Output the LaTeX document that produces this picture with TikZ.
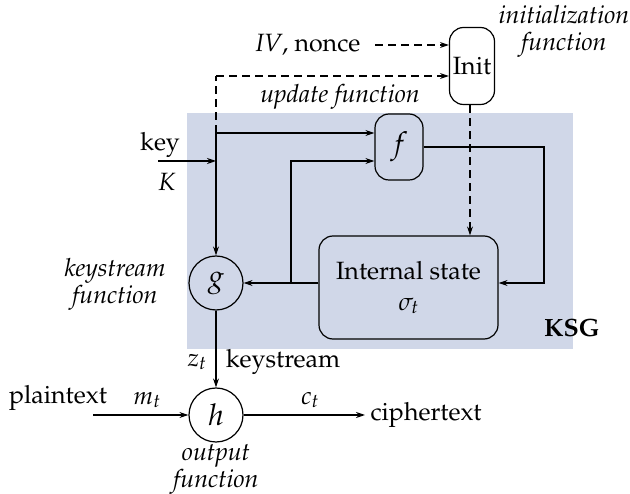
\documentclass[tikz,border=0pt]{standalone}
\usepackage[T1]{fontenc}
\usepackage{mathpazo}
\usetikzlibrary{arrows.meta,calc}
\definecolor{ksgblue}{RGB}{208,215,232}
\tikzset{
  arr/.style={-{Stealth[length=9pt,width=6pt]}},
  ln/.style={line width=1.2pt},
  circ/.style={draw,ln,circle,minimum size=54pt,inner sep=0pt,font=\fontsize{30}{32}\selectfont},
  rbox/.style={draw,ln,rounded corners=14pt,inner sep=0pt,align=center},
  lbl/.style={inner sep=1pt},
  itl/.style={lbl,align=center,font=\fontsize{25}{27}\selectfont\itshape},
  dsh/.style={dash pattern=on 8pt off 5pt},
}
\begin{document}
\begin{tikzpicture}[x=1pt,y=-1pt,font=\fontsize{25}{28}\selectfont,line width=1.2pt]
\useasboundingbox (0,0) rectangle (630,494);
\fill[ksgblue] (187,113) rectangle (573,349);
% nodes
\node[rbox,minimum width=45pt,minimum height=77pt] (init) at (472,66) {Init};
\node[rbox,minimum width=48pt,minimum height=66pt,font=\fontsize{30}{32}\selectfont] (f) at (399,147) {$f$};
\node[rbox,minimum width=179pt,minimum height=103pt,font=\fontsize{25}{31}\selectfont] (state) at (408.5,287.5) {Internal state\\$\sigma_t$};
\node[circ] (g) at (216,283) {$g$};
\node[circ] (h) at (216,415) {$h$};
% labels
\node[lbl] (iv) at (308,45) {\textit{IV}, nonce};
\node[itl] (initl) at (564,31) {initialization\\function};
\node[itl] (upd) at (340,97) {update function};
\node[lbl] (key) at (160,145) {key};
\node[lbl] (K) at (167,182) {$K$};
\node[itl] (ksl) at (115,284) {keystream\\function};
\node[lbl,font=\fontsize{25}{28}\selectfont\bfseries] (ksg) at (572,328) {KSG};
\node[lbl] (zt) at (197,362) {$z_t$};
\node[lbl] (kst) at (283,362) {keystream};
\node[lbl] (pt) at (58,398) {plaintext};
\node[lbl] (mt) at (147,400) {$m_t$};
\node[lbl] (ct) at (310,400) {$c_t$};
\node[lbl,anchor=west] (cip) at (369,415) {ciphertext};
\node[itl] (outl) at (216,469) {output\\function};
% coordinates
\coordinate (kin) at (158,161);
\coordinate (kj) at (216,161);
\coordinate (ft) at (216,133);
\coordinate (dt) at (216,76);
\coordinate (sj) at (291,283);
\coordinate (fr) at (544,147);
\coordinate (pin) at (93,415);
\coordinate (cout) at (365,415);
% connectors
\draw[arr] (kin) -- (kj);
\draw (kj) -- (ft);
\draw[arr] (ft) -- (f.west |- ft);
\draw[arr] (ft) -- (g.north);
\draw[dsh] (ft) -- (dt);
\draw[arr,dsh] (dt) -- (init.west |- dt);
\draw[arr,dsh] (375,45) -- (init.west |- 0,45);
\draw[arr,dsh] (init.south -| 470,0) -- (state.north -| 470,0);
\draw[arr] (state.west |- g.east) -- (g.east);
\draw[arr] (sj) |- ($(f.west)+(0,14)$);
\draw[arr] (f.east) -- (fr) |- (state.east |- g.east);
\draw[arr] (g.south) -- (h.north);
\draw[arr] (pin) -- (h.west);
\draw[arr] (h.east) -- (cout);
\end{tikzpicture}
\end{document}
